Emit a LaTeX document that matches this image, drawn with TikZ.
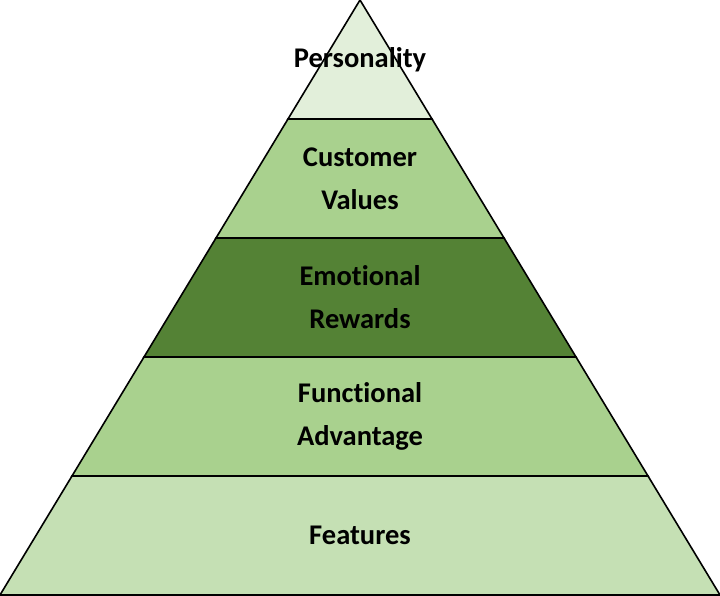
\documentclass[tikz,border=0pt]{standalone}
\usepackage{fontspec}
\setmainfont{Carlito}[Ligatures={NoCommon}]
\definecolor{lvA}{HTML}{E2EFDA}
\definecolor{lvB}{HTML}{A9D18E}
\definecolor{lvC}{HTML}{548235}
\definecolor{lvD}{HTML}{A9D18E}
\definecolor{lvE}{HTML}{C5E0B4}
\tikzset{
  band/.style={draw=black, line width=1.6pt, line join=miter},
  lbl/.style={font=\fontsize{28.5}{43}\selectfont\bfseries, align=center, text=black, inner sep=0pt}
}
\begin{document}
\begin{tikzpicture}[x=1pt,y=-1pt]
\useasboundingbox (0,0) rectangle (720,596);
% band k spans y = 119k .. 119(k+1); half width = 72k
\foreach \k/\c in {0/lvA,1/lvB,2/lvC,3/lvD,4/lvE}{
  \pgfmathsetmacro{\ya}{119*\k}
  \pgfmathsetmacro{\yb}{119*(\k+1)}
  \pgfmathsetmacro{\wa}{72*\k}
  \pgfmathsetmacro{\wb}{72*(\k+1)}
  \filldraw[band, fill=\c] (360-\wa,\ya) -- (360+\wa,\ya) -- (360+\wb,\yb) -- (360-\wb,\yb) -- cycle;
}
\node[lbl] (p) at (360,59.5) {Personality};
\node[lbl] (cv) at (360,178.5) {Customer\\Values};
\node[lbl] (er) at (360,297.5) {Emotional\\Rewards};
\node[lbl] (fa) at (360,416.5) {Functional\\Advantage};
\node[lbl] (f) at (360,535.5) {Features};
\end{tikzpicture}
\end{document}
